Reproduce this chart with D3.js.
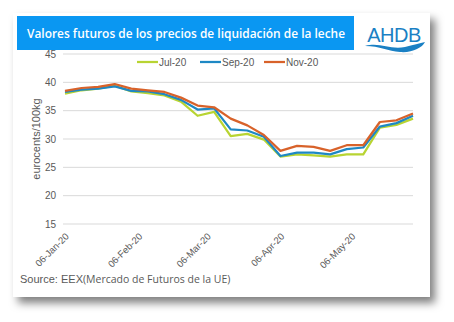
<!DOCTYPE html>
<html><head><meta charset="utf-8">
<script src="https://cdn.jsdelivr.net/npm/d3@7"></script>
<style>
html,body{margin:0;padding:0;background:#fff;}
svg{display:block;}
</style></head>
<body>
<svg id="c" width="454" height="322"></svg>
<script>
const dates = ["2020-01-06","2020-01-13","2020-01-20","2020-01-27","2020-02-03","2020-02-10","2020-02-17","2020-02-24","2020-03-02","2020-03-09","2020-03-16","2020-03-23","2020-03-30","2020-04-06","2020-04-13","2020-04-20","2020-04-27","2020-05-04","2020-05-11","2020-05-18","2020-05-25","2020-06-01"];
const jul20 = [38.0,38.6,38.9,39.4,38.4,38.1,37.7,36.6,34.1,34.8,30.5,30.9,29.9,26.9,27.3,27.1,26.9,27.3,27.3,32.0,32.5,33.6];
const sep20 = [38.3,38.7,38.9,39.3,38.5,38.4,37.9,36.9,35.2,35.4,31.7,31.5,30.4,27.0,27.6,27.6,27.3,28.2,28.5,32.2,32.8,34.1];
const nov20 = [38.5,39.0,39.2,39.7,38.9,38.6,38.3,37.3,35.9,35.6,33.6,32.4,30.7,27.9,28.8,28.6,27.9,28.9,28.9,33.0,33.3,34.5];
const seriesNames = ["Jul-20","Sep-20","Nov-20"];
const seriesColors = ["#b8d432","#1e88c4","#d8622a"];
const yTicks = [15,20,25,30,35,40,45];
const xTickDates = ["2020-01-06","2020-02-06","2020-03-06","2020-04-06","2020-05-06"];
const title = "Valores futuros de los precios de liquidación de la leche";
const yTitle = "eurocents/100kg";

const svg = d3.select("#c");
const defs = svg.append("defs");
const f = defs.append("filter").attr("id","sh").attr("x","-10%").attr("y","-10%").attr("width","130%").attr("height","130%");
f.append("feDropShadow").attr("dx",5).attr("dy",6).attr("stdDeviation",4).attr("flood-color","#000").attr("flood-opacity",0.5);

// card
svg.append("rect").attr("x",13).attr("y",13).attr("width",417).attr("height",284).attr("fill","#fff").attr("filter","url(#sh)");

// title bar
svg.append("rect").attr("x",17).attr("y",16).attr("width",337).attr("height",34).attr("fill","#0a97f2");
svg.append("text").attr("x",27).attr("y",38).attr("textLength",318).attr("lengthAdjust","spacingAndGlyphs")
  .attr("font-family","Open Sans").attr("font-weight",600).attr("font-size",12).attr("fill","#fff").text(title);

// logo
svg.append("text").attr("x",394).attr("y",42).attr("text-anchor","middle")
  .attr("font-family","Liberation Sans").attr("font-size",20).attr("fill","#1a80c4").attr("letter-spacing",-0.5).text("AHDB");
svg.append("path").attr("d","M365,46 C380,42 390,50 405,47 C413,45 420,43 425,42 C422,48 412,53 400,52 C388,51 380,46 365,46 Z").attr("fill","#1a80c4");

const parse = d3.timeParse("%Y-%m-%d");
const xd = dates.map(parse);
const x = d3.scaleTime().domain([xd[0], xd[xd.length-1]]).range([65,413]);
const y = d3.scaleLinear().domain([15,45]).range([224,54]);

// grid
svg.append("g").selectAll("line").data(yTicks).join("line")
  .attr("x1",63).attr("x2",413).attr("y1",d=>y(d)).attr("y2",d=>y(d))
  .attr("stroke","#d9d9d9").attr("stroke-width",1);

// y axis labels
const yAxis = d3.axisLeft(y).tickValues(yTicks).tickSize(0).tickPadding(0);
const gy = svg.append("g").attr("transform","translate(56,0)").call(yAxis);
gy.select(".domain").remove();
gy.selectAll("text").attr("font-family","Liberation Sans").attr("font-size",10).attr("fill","#595959").attr("dy","0.32em");

svg.append("text").attr("transform","translate(40,139) rotate(-90)").attr("text-anchor","middle")
  .attr("font-family","Liberation Sans").attr("font-size",11).attr("fill","#595959").text(yTitle);

// x axis labels
const fmt = d3.timeFormat("%d-%b-%y");
const xAxis = d3.axisBottom(x).tickValues(xTickDates.map(parse)).tickSize(0).tickPadding(0).tickFormat(fmt);
const gx = svg.append("g").attr("transform","translate(0,230)").call(xAxis);
gx.select(".domain").remove();
gx.selectAll("text").attr("font-family","Liberation Sans").attr("font-size",9.5).attr("fill","#595959")
  .attr("text-anchor","end").attr("dy",0).attr("y",0).attr("transform","translate(4,7) rotate(-45)");

// lines
const allSeries = [jul20, sep20, nov20];
const line = d3.line().x((d,i)=>x(xd[i])).y(d=>y(d));
allSeries.forEach((s,k)=>{
  svg.append("path").datum(s).attr("d",line).attr("fill","none")
    .attr("stroke",seriesColors[k]).attr("stroke-width",2.25).attr("stroke-linejoin","round");
});

// legend
const legX = [137,200,264];
seriesNames.forEach((n,k)=>{
  svg.append("line").attr("x1",legX[k]).attr("x2",legX[k]+21).attr("y1",62).attr("y2",62)
    .attr("stroke",seriesColors[k]).attr("stroke-width",2.25);
  svg.append("text").attr("x",legX[k]+22).attr("y",65.5).attr("font-family","Liberation Sans")
    .attr("font-size",10).attr("fill","#595959").text(n);
});

// source
const src = svg.append("text").attr("x",20).attr("y",283).attr("font-size",11).attr("fill","#595959");
src.append("tspan").attr("font-family","Liberation Sans").text("Source: EEX");
src.append("tspan").attr("font-family","Open Sans").attr("font-size",10.5).text("(Mercado de Futuros de la UE)");
</script>
</body></html>
